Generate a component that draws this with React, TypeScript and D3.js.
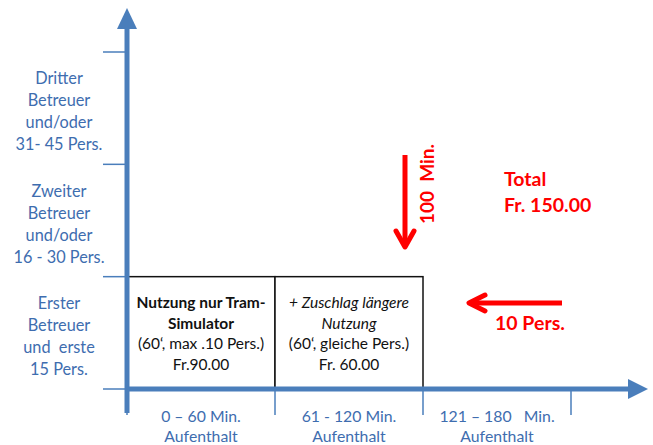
import { useEffect, useRef } from "react";
import * as d3 from "d3";

// tick values (minutes on x, persons on y)
const minuteTicks = [0, 60, 120, 180];
const personTicks = [0, 15, 30, 45];

const timeLabels = [
  { from: 0, to: 60, lines: ["0 – 60 Min.", "Aufenthalt"] },
  { from: 60, to: 120, lines: ["61 - 120 Min.", "Aufenthalt"] },
  { from: 120, to: 180, lines: ["121 – 180   Min.", "Aufenthalt"] },
];

const staffLabels = [
  { from: 0, to: 15, lines: ["Erster", "Betreuer", "und  erste", "15 Pers."] },
  { from: 15, to: 30, lines: ["Zweiter", "Betreuer", "und/oder", "16 - 30 Pers."] },
  { from: 30, to: 45, lines: ["Dritter", "Betreuer", "und/oder", "31- 45 Pers."] },
];

const cells = [
  { from: 0, to: 60, persons: 15, lines: ["Nutzung nur Tram-", "Simulator", "(60‘, max .10 Pers.)", "Fr.90.00"], weight: ["bold", "bold", "normal", "normal"], style: ["normal", "normal", "normal", "normal"] },
  { from: 60, to: 120, persons: 15, lines: ["+ Zuschlag längere", "Nutzung", "(60‘, gleiche Pers.)", "Fr. 60.00"], weight: ["normal", "normal", "normal", "normal"], style: ["italic", "italic", "normal", "normal"] },
];

const totalLines = ["Total", "Fr. 150.00"];
const minutesNote = "100  Min.";
const personsNote = "10 Pers.";

const W = 653;
const H = 445;
const BLUE = "#4A7EBB";
const TEXT_BLUE = "#3E6DAF";
const RED = "#FF0000";
const FONT = "Lato, 'Open Sans', sans-serif";

export default function App() {
  const ref = useRef<SVGSVGElement>(null);

  useEffect(() => {
    if (!ref.current) return;
    const svg = d3.select(ref.current);
    svg.selectAll("*").remove();

    const x = d3.scaleLinear().domain([0, 180]).range([127, 571]);
    const y = d3.scaleLinear().domain([0, 45]).range([389, 52]);

    // box cells
    cells.forEach((c) => {
      svg
        .append("rect")
        .attr("x", x(c.from))
        .attr("y", y(c.persons))
        .attr("width", x(c.to) - x(c.from))
        .attr("height", y(0) - y(c.persons))
        .attr("fill", "#fff")
        .attr("stroke", "#111")
        .attr("stroke-width", 1.5);
      const cx = (x(c.from) + x(c.to)) / 2;
      c.lines.forEach((t, i) => {
        svg
          .append("text")
          .attr("x", cx)
          .attr("y", 308 + i * 20.5)
          .attr("text-anchor", "middle")
          .attr("font-family", FONT)
          .attr("font-size", 15.5)
          .attr("font-weight", c.weight[i])
          .attr("font-style", c.style[i])
          .attr("fill", "#111")
          .style("white-space", "pre")
          .text(t);
      });
    });

    // y ticks
    personTicks.forEach((p) => {
      svg
        .append("line")
        .attr("x1", 103)
        .attr("x2", x(0))
        .attr("y1", y(p))
        .attr("y2", y(p))
        .attr("stroke", BLUE)
        .attr("stroke-width", 1.5);
    });

    // x ticks
    minuteTicks.forEach((m) => {
      svg
        .append("line")
        .attr("x1", x(m))
        .attr("x2", x(m))
        .attr("y1", y(0))
        .attr("y2", 415)
        .attr("stroke", BLUE)
        .attr("stroke-width", 1.5);
    });

    // y axis with arrow
    svg
      .append("line")
      .attr("x1", x(0))
      .attr("x2", x(0))
      .attr("y1", 413)
      .attr("y2", 28)
      .attr("stroke", BLUE)
      .attr("stroke-width", 5);
    svg
      .append("path")
      .attr("d", `M${x(0) - 10},29 L${x(0)},8 L${x(0) + 10},29 Z`)
      .attr("fill", BLUE);

    // x axis with arrow
    svg
      .append("line")
      .attr("x1", x(0) - 2)
      .attr("x2", 630)
      .attr("y1", y(0))
      .attr("y2", y(0))
      .attr("stroke", BLUE)
      .attr("stroke-width", 5);
    svg
      .append("path")
      .attr("d", `M628,${y(0) - 10} L648,${y(0)} L628,${y(0) + 10} Z`)
      .attr("fill", BLUE);

    // y labels
    staffLabels.forEach((s) => {
      const cy = (y(s.from) + y(s.to)) / 2;
      s.lines.forEach((t, i) => {
        svg
          .append("text")
          .attr("x", 59)
          .attr("y", cy - 29 + i * 22 + 5)
          .attr("text-anchor", "middle")
          .attr("font-family", FONT)
          .attr("font-size", 16.3)
          .attr("fill", TEXT_BLUE)
          .style("white-space", "pre")
          .text(t);
      });
    });

    // x labels
    timeLabels.forEach((s) => {
      const cx = (x(s.from) + x(s.to)) / 2;
      s.lines.forEach((t, i) => {
        svg
          .append("text")
          .attr("x", cx)
          .attr("y", 422 + i * 20)
          .attr("text-anchor", "middle")
          .attr("font-family", FONT)
          .attr("font-size", 15.8)
          .attr("fill", TEXT_BLUE)
          .style("white-space", "pre")
          .text(t);
      });
    });

    // red vertical arrow
    svg
      .append("line")
      .attr("x1", 405)
      .attr("x2", 405)
      .attr("y1", 155)
      .attr("y2", 244)
      .attr("stroke", RED)
      .attr("stroke-width", 5);
    svg
      .append("path")
      .attr("d", "M396,231 L405,247 L414,231")
      .attr("fill", "none")
      .attr("stroke", RED)
      .attr("stroke-width", 5)
      .attr("stroke-linecap", "round")
      .attr("stroke-linejoin", "round");
    svg
      .append("text")
      .attr("transform", "translate(434,184) rotate(-90)")
      .attr("text-anchor", "middle")
      .attr("font-family", FONT)
      .attr("font-size", 19)
      .attr("font-weight", "bold")
      .attr("fill", RED)
      .style("white-space", "pre")
      .text(minutesNote);

    // red horizontal arrow
    svg
      .append("line")
      .attr("x1", 470)
      .attr("x2", 562)
      .attr("y1", 303)
      .attr("y2", 303)
      .attr("stroke", RED)
      .attr("stroke-width", 5);
    svg
      .append("path")
      .attr("d", "M485,295 L469,303 L485,311")
      .attr("fill", "none")
      .attr("stroke", RED)
      .attr("stroke-width", 5)
      .attr("stroke-linecap", "round")
      .attr("stroke-linejoin", "round");
    svg
      .append("text")
      .attr("x", 495)
      .attr("y", 330)
      .attr("font-family", FONT)
      .attr("font-size", 19.5)
      .attr("font-weight", "bold")
      .attr("fill", RED)
      .text(personsNote);

    totalLines.forEach((t, i) => {
      svg
        .append("text")
        .attr("x", 504)
        .attr("y", 186 + i * 26)
        .attr("font-family", FONT)
        .attr("font-size", 19.5)
        .attr("font-weight", "bold")
        .attr("fill", RED)
        .text(t);
    });
  }, []);

  return (
    <svg
      ref={ref}
      width={W}
      height={H}
      style={{ position: "absolute", left: 0, top: 0, background: "#fff" }}
    />
  );
}
